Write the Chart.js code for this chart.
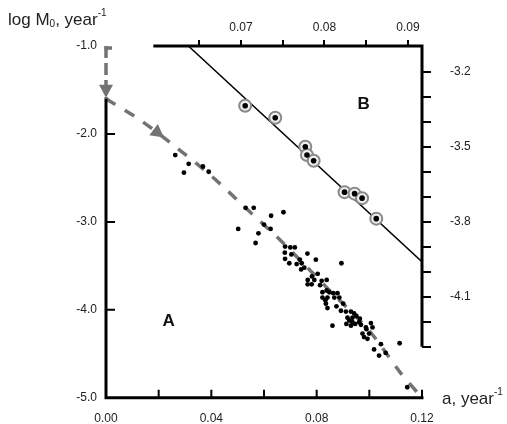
<!DOCTYPE html>
<html>
<head>
<meta charset="utf-8">
<script src="https://cdn.jsdelivr.net/npm/chart.js@4.4.1/dist/chart.umd.min.js"></script>
<style>
  body { margin: 0; background: #fff; }
  #wrap { width: 507px; height: 424px; }
</style>
</head>
<body>
<div id="wrap"><canvas id="chart" width="507" height="424"></canvas></div>
<script>
// A: rate a (year^-1) against log M0, bottom / left axes
const aX = [0.0263, 0.0314, 0.0296, 0.0368, 0.0390, 0.0530, 0.0561, 0.0674, 0.0627, 0.0600,
            0.0625, 0.0502, 0.0579, 0.0568, 0.0680, 0.0700, 0.0717, 0.0679, 0.0704, 0.0680,
            0.0696, 0.0724, 0.0736, 0.0743, 0.0765, 0.0753, 0.0741, 0.0797, 0.0894, 0.0804,
            0.0782, 0.0766, 0.0791, 0.0766, 0.0781, 0.0819, 0.0838, 0.0813, 0.0822, 0.0838,
            0.0848, 0.0863, 0.0879, 0.0822, 0.0841, 0.0867, 0.0886, 0.0833, 0.0835, 0.0875,
            0.0901, 0.0841, 0.0892, 0.0911, 0.0930, 0.0942, 0.0917, 0.0936, 0.0951, 0.0964,
            0.0924, 0.0936, 0.0961, 0.0913, 0.0860, 0.0946, 0.0968, 0.1006, 0.0987, 0.1012,
            0.0974, 0.0999, 0.0980, 0.0930, 0.0989, 0.0993, 0.1044, 0.1115, 0.1018, 0.1037,
            0.1062, 0.1144];
const aY = [-2.24, -2.34, -2.44, -2.37, -2.43, -2.84, -2.84, -2.89, -2.93, -3.03,
            -3.08, -3.08, -3.13, -3.24, -3.28, -3.29, -3.29, -3.35, -3.37, -3.42,
            -3.47, -3.48, -3.43, -3.47, -3.36, -3.52, -3.54, -3.43, -3.47, -3.59,
            -3.62, -3.66, -3.66, -3.71, -3.71, -3.67, -3.66, -3.72, -3.80, -3.78,
            -3.80, -3.81, -3.81, -3.86, -3.86, -3.86, -3.86, -3.89, -3.93, -3.96,
            -3.93, -3.98, -4.01, -4.02, -4.02, -4.04, -4.09, -4.09, -4.07, -4.10,
            -4.12, -4.14, -4.14, -4.16, -4.18, -4.16, -4.17, -4.15, -4.20, -4.20,
            -4.27, -4.27, -4.31, -4.18, -4.22, -4.33, -4.39, -4.38, -4.45, -4.52,
            -4.49, -4.88];

// dashed trend for A
const aFitX = [0, 0.0129, 0.0257, 0.0401, 0.0530, 0.0666, 0.0833, 0.1003, 0.1117, 0.12];
const aFitY = [-1.60, -1.84, -2.13, -2.48, -2.84, -3.22, -3.73, -4.25, -4.71, -5.00];

// dashed guide down the y axis (intercept)
const guideX = [0, 0];
const guideY = [-1.0, -1.6];

// B: top / right axes
const bX = [0.0705, 0.0741, 0.0777, 0.0779, 0.0787, 0.0824, 0.0836, 0.0845, 0.0862];
const bY = [-3.335, -3.383, -3.499, -3.532, -3.555, -3.681, -3.687, -3.705, -3.787];
const bFitX = [0.0637, 0.0917];
const bFitY = [-3.096, -3.96];

// ticks
const xTicks = [0.02, 0.04, 0.06, 0.08, 0.10, 0.12];
const xLabels = [0, 0.04, 0.08, 0.12];
const yTicks = [-2, -3, -4];
const yLabels = [-5, -4, -3, -2, -1];
const x2Ticks = [0.065, 0.07, 0.075, 0.08, 0.085, 0.09];
const x2Labels = [0.07, 0.08, 0.09];
const y2Ticks = [-3.2, -3.3, -3.4, -3.5, -3.6, -3.7, -3.8, -3.9, -4.0, -4.1, -4.2, -4.3];
const y2Labels = [-3.2, -3.5, -3.8, -4.1];

const FONT = 'Liberation Sans, Arial, sans-serif';
const GRAY = '#737373';

function pts(xs, ys) {
    return xs.map((v, i) => ({ x: v, y: ys[i] }));
}

function has(list, v) {
    return list.some(l => Math.abs(l - v) < 1e-6);
}

function arrow(ctx, tx, ty, ang, len, half) {
    const bx = tx - len * Math.cos(ang), by = ty - len * Math.sin(ang);
    ctx.beginPath();
    ctx.moveTo(tx, ty);
    ctx.lineTo(bx + half * Math.sin(ang), by - half * Math.cos(ang));
    ctx.lineTo(bx - half * Math.sin(ang), by + half * Math.cos(ang));
    ctx.closePath();
    ctx.fill();
}

function richText(ctx, parts, x, y) {
    parts.forEach(p => {
        ctx.font = p.font;
        ctx.fillText(p.t, x, y + (p.dy || 0));
        x += ctx.measureText(p.t).width;
    });
}

// axis lines, inward ticks, arrows and the text bits
const decorations = {
    id: 'decorations',
    afterDraw(chart) {
        const { ctx, chartArea: ca, scales } = chart;
        const { x, y, x2, y2 } = scales;
        ctx.save();

        // gray guide arrows
        ctx.fillStyle = GRAY;
        ctx.strokeStyle = GRAY;
        ctx.lineWidth = 3.5;
        ctx.beginPath();
        ctx.moveTo(x.getPixelForValue(0) - 1.5, y.getPixelForValue(guideY[0]) + 2);
        ctx.lineTo(x.getPixelForValue(0) + 6, y.getPixelForValue(guideY[0]) + 2);
        ctx.stroke();
        arrow(ctx, x.getPixelForValue(guideX[1]), y.getPixelForValue(guideY[1]) - 1, Math.PI / 2, 13, 7);
        const p1x = x.getPixelForValue(aFitX[1]), p1y = y.getPixelForValue(aFitY[1]);
        const p2x = x.getPixelForValue(aFitX[2]), p2y = y.getPixelForValue(aFitY[2]);
        arrow(ctx, x.getPixelForValue(0.022), y.getPixelForValue(-2.04), Math.atan2(p2y - p1y, p2x - p1x), 13, 7);

        // axis lines
        ctx.strokeStyle = '#000';
        ctx.lineWidth = 3;
        ctx.beginPath();
        ctx.moveTo(ca.left - 1.5, ca.bottom);
        ctx.lineTo(ca.right + 1.5, ca.bottom);
        ctx.moveTo(ca.left, y.getPixelForValue(-1.6));
        ctx.lineTo(ca.left, ca.bottom);
        ctx.moveTo(x2.getPixelForValue(0.0595), ca.top);
        ctx.lineTo(ca.right + 1.5, ca.top);
        ctx.moveTo(ca.right, ca.top);
        ctx.lineTo(ca.right, y2.getPixelForValue(-4.3));
        ctx.stroke();

        // inward ticks on bottom and left
        ctx.lineWidth = 2;
        ctx.beginPath();
        xTicks.forEach(v => {
            const px = x.getPixelForValue(v);
            ctx.moveTo(px, ca.bottom);
            ctx.lineTo(px, ca.bottom - 8);
        });
        yTicks.forEach(v => {
            const py = y.getPixelForValue(v);
            ctx.moveTo(ca.left, py);
            ctx.lineTo(ca.left + 9, py);
        });
        ctx.stroke();

        // panel letters
        ctx.fillStyle = '#111';
        ctx.font = 'bold 17px ' + FONT;
        ctx.textAlign = 'center';
        ctx.textBaseline = 'middle';
        ctx.fillText('A', x.getPixelForValue(0.0238), y.getPixelForValue(-4.13));
        ctx.fillText('B', x2.getPixelForValue(0.0847), y2.getPixelForValue(-3.328));

        // axis titles
        ctx.textAlign = 'left';
        ctx.textBaseline = 'alphabetic';
        ctx.fillStyle = '#222';
        const big = '17px ' + FONT, small = '10px ' + FONT;
        richText(ctx, [
            { t: 'log M', font: big },
            { t: '0', font: small, dy: 2 },
            { t: ', year', font: big },
            { t: '-1', font: small, dy: -9 }
        ], 8, 25);
        richText(ctx, [
            { t: 'a, year', font: big },
            { t: '-1', font: small, dy: -9 }
        ], 442, 404);
        ctx.restore();
    }
};

const tickFont = { family: FONT, size: 12 };

new Chart(document.getElementById('chart'), {
    type: 'scatter',
    data: {
        datasets: [
            {
                label: 'B dots', xAxisID: 'x2', yAxisID: 'y2',
                data: pts(bX, bY),
                pointRadius: 2.8, backgroundColor: '#000', borderWidth: 0, order: 0
            },
            {
                label: 'A', xAxisID: 'x', yAxisID: 'y',
                data: pts(aX, aY),
                pointRadius: 2.4, backgroundColor: '#000', borderWidth: 0, order: 1
            },
            {
                label: 'B rings', xAxisID: 'x2', yAxisID: 'y2',
                data: pts(bX, bY),
                pointRadius: 6, backgroundColor: '#eeeeee', borderColor: '#8a8a8a', borderWidth: 2, order: 2
            },
            {
                label: 'A trend', xAxisID: 'x', yAxisID: 'y',
                data: pts(aFitX, aFitY),
                showLine: true, borderColor: GRAY, borderWidth: 3.5, borderDash: [11, 11],
                pointRadius: 0, tension: 0.3, clip: false, order: 3
            },
            {
                label: 'guide', xAxisID: 'x', yAxisID: 'y',
                data: pts(guideX, guideY),
                showLine: true, borderColor: GRAY, borderWidth: 3.5, borderDash: [12, 5],
                pointRadius: 0, clip: false, order: 3
            },
            {
                label: 'B trend', xAxisID: 'x2', yAxisID: 'y2',
                data: pts(bFitX, bFitY),
                showLine: true, borderColor: '#000', borderWidth: 1.5,
                pointRadius: 0, order: 4
            }
        ]
    },
    options: {
        responsive: false,
        devicePixelRatio: 1,
        animation: false,
        layout: { padding: 0 },
        plugins: { legend: { display: false }, tooltip: { enabled: false } },
        scales: {
            x: {
                type: 'linear', position: 'bottom', min: 0, max: 0.12,
                afterBuildTicks: s => { s.ticks = xLabels.map(v => ({ value: v })); },
                ticks: { callback: v => v.toFixed(2), font: tickFont, color: '#222', padding: 14, maxRotation: 0, autoSkip: false },
                grid: { display: false, drawTicks: false },
                border: { display: false },
                afterFit: s => { s.height = 26; }
            },
            y: {
                type: 'linear', position: 'left', min: -5, max: -1,
                afterBuildTicks: s => { s.ticks = yLabels.map(v => ({ value: v })); },
                ticks: { callback: v => v.toFixed(1), font: tickFont, color: '#222', padding: 9, autoSkip: false },
                grid: { display: false, drawTicks: false },
                border: { display: false },
                afterFit: s => { s.width = 106; }
            },
            x2: {
                type: 'linear', position: 'top', min: 0.053832, max: 0.091677,
                afterBuildTicks: s => { s.ticks = x2Ticks.map(v => ({ value: v })); },
                ticks: { callback: v => has(x2Labels, v) ? v.toFixed(2) : '', font: tickFont, color: '#222', padding: 5, maxRotation: 0, autoSkip: false },
                grid: { drawOnChartArea: false, drawTicks: true, tickLength: 6, color: '#000', lineWidth: 2 },
                border: { display: false },
                afterFit: s => { s.height = 46; }
            },
            y2: {
                type: 'linear', position: 'right', min: -4.504, max: -3.096,
                afterBuildTicks: s => { s.ticks = y2Ticks.map(v => ({ value: v })); },
                ticks: { callback: v => has(y2Labels, v) ? v.toFixed(1) : '', font: tickFont, color: '#222', padding: 19, autoSkip: false },
                grid: { drawOnChartArea: false, drawTicks: true, tickLength: 9, color: '#000', lineWidth: 2 },
                border: { display: false },
                afterFit: s => { s.width = 85; }
            }
        }
    },
    plugins: [decorations]
});
</script>
</body>
</html>
